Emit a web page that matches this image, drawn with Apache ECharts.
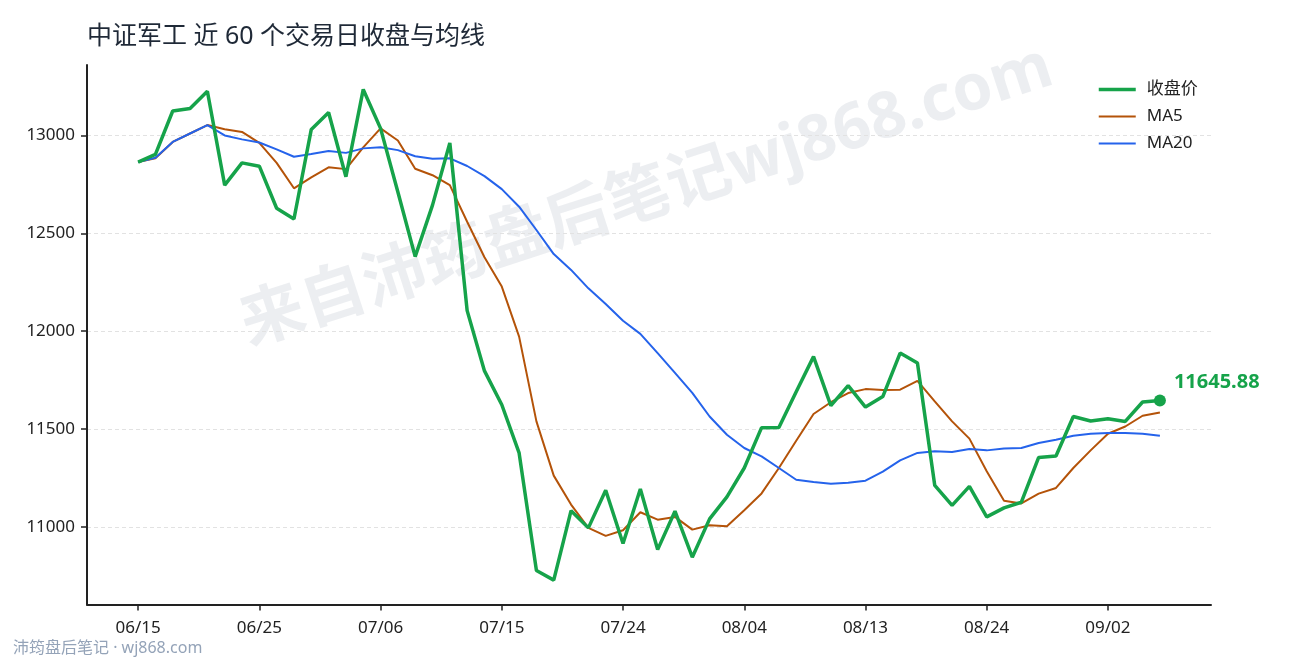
<!DOCTYPE html>
<html>
<head>
<meta charset="utf-8">
<style>html,body{margin:0;padding:0;background:#fff}#chart{width:1290px;height:660px}</style>
<script src="https://cdn.jsdelivr.net/npm/echarts@6/dist/echarts.min.js"></script>
</head>
<body>
<div id="chart"></div>
<script>
var dates = ['06/15','06/16','06/17','06/18','06/22','06/23','06/24','06/25','06/26','06/29',
  '06/30','07/01','07/02','07/03','07/06','07/07','07/08','07/09','07/10','07/13',
  '07/14','07/15','07/16','07/17','07/20','07/21','07/22','07/23','07/24','07/27',
  '07/28','07/29','07/30','07/31','08/03','08/04','08/05','08/06','08/07','08/10',
  '08/11','08/12','08/13','08/14','08/17','08/18','08/19','08/20','08/21','08/24',
  '08/25','08/26','08/27','08/28','08/31','09/01','09/02','09/03','09/04','09/07'];
var close = [12864,12903,13125,13138,13226,12746,12860,12843,12628,12573,
  13031,13117,12789,13235,13036,12711,12381,12644,12962,12105,
  11797,11624,11378,10777,10728,11083,10995,11187,10915,11194,
  10884,11080,10845,11041,11153,11301,11507,11508,11690,11870,
  11620,11722,11612,11666,11888,11837,11212,11110,11207,11051,
  11097,11126,11355,11362,11564,11541,11553,11539,11638,11645.88];
var ma5 = [12864,12884,12967,13010,13053,13032,13018,12962,12860,12730,
  12786,12837,12828,12939,13036,12974,12830,12797,12746,12559,
  12378,12228,11972,11539,11262,11114,10995,10954,10983,11075,
  11037,11051,10986,11008,11003,11085,11171,11301,11440,11577,
  11637,11684,11704,11699,11701,11746,11641,11539,11451,11284,
  11134,11120,11170,11199,11301,11391,11476,11513,11568,11585];
var ma20 = [12864,12886,12967,13010,13053,13000,12980,12964,12929,12891,
  12905,12921,12911,12934,12940,12925,12894,12881,12883,12844,
  12792,12726,12636,12517,12394,12313,12219,12139,12053,11986,
  11888,11787,11685,11564,11471,11403,11360,11301,11241,11229,
  11220,11225,11236,11282,11340,11378,11386,11383,11398,11391,
  11401,11403,11429,11445,11466,11476,11480,11480,11476,11466];
var yTicks = [11000,11500,12000,12500,13000];
var xTicks = [0,7,14,21,28,35,42,49,56];

var font = '"Noto Sans","Noto Sans CJK SC",sans-serif';
var axisColor = '#222222';

function withIndex(arr) {
  return arr.map(function (v, i) { return [i, v]; });
}

var myChart = echarts.init(document.getElementById('chart'));

var option = {
  backgroundColor: '#ffffff',
  animation: false,
  textStyle: { fontFamily: font },
  title: {
    text: '中证军工 近 60 个交易日收盘与均线',
    left: 82, top: 19,
    textStyle: { fontFamily: font, fontSize: 25, fontWeight: 'normal', color: '#1f2937' }
  },
  legend: {
    orient: 'vertical',
    left: 1092, top: 76,
    itemWidth: 37, itemHeight: 14, itemGap: 10,
    itemStyle: { color: 'transparent', opacity: 0, borderWidth: 0 },
    data: [
      { name: '收盘价', lineStyle: { width: 3.5 } },
      { name: 'MA5', lineStyle: { width: 2 } },
      { name: 'MA20', lineStyle: { width: 2 } }
    ],
    textStyle: { fontFamily: font, fontSize: 17, color: '#222222', padding: [0,0,0,6] }
  },
  grid: { left: 87, right: 79, top: 65, bottom: 55.5 },
  xAxis: {
    type: 'value',
    min: -2.95, max: 61.95,
    splitLine: { show: false },
    axisLine: { onZero: false, lineStyle: { color: axisColor, width: 2 } },
    axisTick: { length: 6, customValues: xTicks, lineStyle: { color: axisColor, width: 1.5 } },
    axisLabel: {
      customValues: xTicks, color: '#222222', fontSize: 17, margin: 15,
      formatter: function (v) { return dates[v]; }
    }
  },
  yAxis: {
    type: 'value',
    min: 10603.5, max: 13360,
    axisLine: { show: true, onZero: false, lineStyle: { color: axisColor, width: 2 } },
    axisTick: { show: true, length: 6, customValues: yTicks, lineStyle: { color: axisColor, width: 1.5 } },
    axisLabel: {
      customValues: yTicks, color: '#222222', fontSize: 17, margin: 12,
      formatter: function (v) { return String(v); }
    },
    splitLine: { show: true, lineStyle: { color: '#e2e2e2', type: [4,3], width: 1 } }
  },
  graphic: [
    {
      type: 'text', z: 0, zlevel: 0,
      x: 647, y: 197, rotation: 18 * Math.PI / 180,
      style: {
        text: '来自沛筠盘后笔记wj868.com',
        font: 'bold 64px ' + font,
        fill: 'rgba(100,116,139,0.12)',
        align: 'center', verticalAlign: 'middle'
      }
    },
    {
      type: 'text', left: 13, top: 640,
      style: { text: '沛筠盘后笔记 · wj868.com', font: '16px ' + font, fill: '#94a3b8' }
    }
  ],
  series: [
    { name: '收盘价', type: 'line', z: 5, data: withIndex(close), showSymbol: false, symbol: 'none',
      lineStyle: { color: '#16a34a', width: 3.5 }, itemStyle: { color: '#16a34a' } },
    { name: 'MA5', type: 'line', z: 3, data: withIndex(ma5), showSymbol: false, symbol: 'none',
      lineStyle: { color: '#b45309', width: 2 }, itemStyle: { color: '#b45309' } },
    { name: 'MA20', type: 'line', z: 4, data: withIndex(ma20), showSymbol: false, symbol: 'none',
      lineStyle: { color: '#2563eb', width: 2 }, itemStyle: { color: '#2563eb' } },
    { name: '最新', type: 'scatter', z: 6, symbolSize: 12,
      data: [[close.length - 1, close[close.length - 1]]],
      itemStyle: { color: '#16a34a', opacity: 1 },
      label: {
        show: true, position: 'right', offset: [3, -18],
        formatter: function (p) { return p.value[1].toFixed(2); },
        color: '#16a34a', fontSize: 20, fontWeight: 'bold', fontFamily: font
      } }
  ]
};
myChart.setOption(option);
</script>
</body>
</html>
